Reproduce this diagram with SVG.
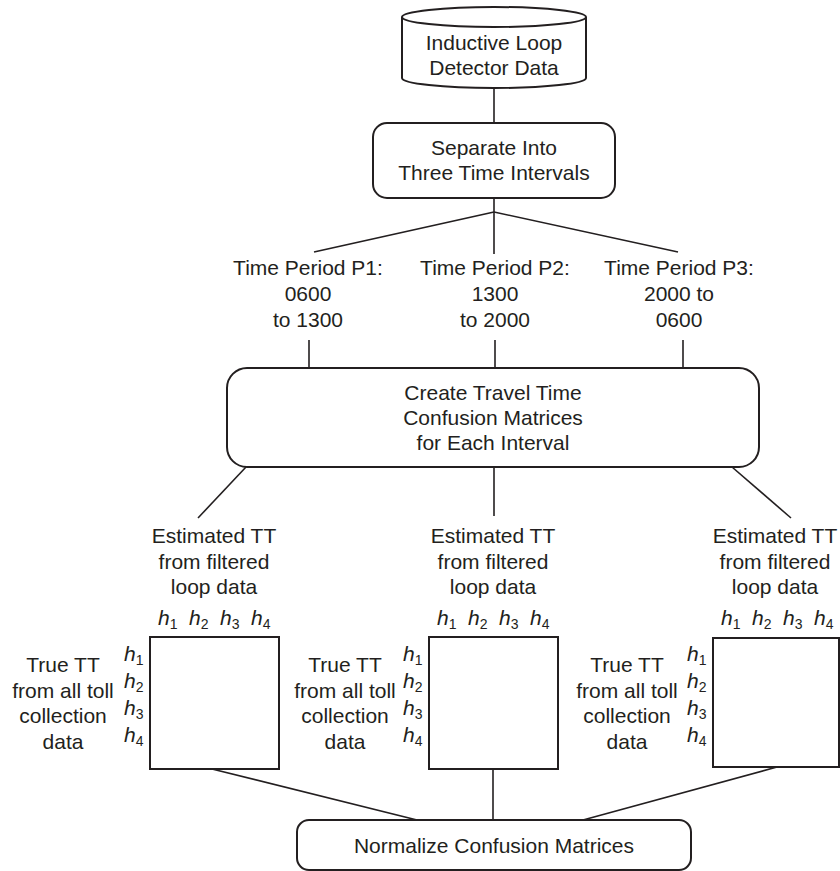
<svg xmlns="http://www.w3.org/2000/svg" width="840" height="871" viewBox="0 0 840 871">
<style>
  .t { font-family: "Liberation Sans", Arial, sans-serif; font-size: 21px; fill: #231f20; text-anchor: middle; }
  .h { font-family: "Liberation Sans", Arial, sans-serif; font-size: 21px; fill: #231f20; }
  .h .v { font-style: italic; }
  .h .s { font-size: 14px; }
  .box { fill: #fff; stroke: #231f20; stroke-width: 2; }
  .con line, .con polyline { stroke: #231f20; stroke-width: 1.6; fill: none; }
</style>
<rect width="840" height="871" fill="#fff"/>

<g class="con">
  <line x1="494" y1="87" x2="494" y2="123"/>
  <line x1="494" y1="198" x2="494" y2="254"/>
  <line x1="494" y1="212" x2="314" y2="252"/>
  <line x1="494" y1="212" x2="678" y2="252"/>
  <line x1="309" y1="340" x2="309" y2="368"/>
  <line x1="495" y1="340" x2="495" y2="368"/>
  <line x1="683" y1="340" x2="683" y2="368"/>
  <line x1="246" y1="467" x2="198" y2="518"/>
  <line x1="494" y1="467" x2="494" y2="516"/>
  <line x1="732" y1="467" x2="791" y2="518"/>
  <line x1="212" y1="769" x2="417" y2="820"/>
  <line x1="493" y1="769" x2="493" y2="820"/>
  <line x1="777" y1="767" x2="583" y2="820"/>
</g>

<g id="source">
  <path class="box" d="M402,17 L402,78 A92,10 0 0 0 586,78 L586,17 A92,10 0 0 0 402,17 Z"/>
  <path d="M402,17 A92,10 0 0 0 586,17" fill="none" stroke="#231f20" stroke-width="2"/>
  <text class="t" x="494" y="50">Inductive Loop</text>
  <text class="t" x="494" y="75">Detector Data</text>
</g>

<g id="separate">
  <rect class="box" x="373" y="123" width="242" height="75" rx="14"/>
  <text class="t" x="494" y="155">Separate Into</text>
  <text class="t" x="494" y="180">Three Time Intervals</text>
</g>

<g id="p1">
  <text class="t" x="308" y="275">Time Period P1:</text>
  <text class="t" x="308" y="301">0600</text>
  <text class="t" x="308" y="327">to 1300</text>
</g>
<g id="p2">
  <text class="t" x="495" y="275">Time Period P2:</text>
  <text class="t" x="495" y="301">1300</text>
  <text class="t" x="495" y="327">to 2000</text>
</g>
<g id="p3">
  <text class="t" x="679" y="275">Time Period P3:</text>
  <text class="t" x="679" y="301">2000 to</text>
  <text class="t" x="679" y="327">0600</text>
</g>

<g id="create">
  <rect class="box" x="227" y="368" width="532" height="99" rx="20"/>
  <text class="t" x="493" y="400">Create Travel Time</text>
  <text class="t" x="493" y="425">Confusion Matrices</text>
  <text class="t" x="493" y="450">for Each Interval</text>
</g>

<g id="matrix1">
  <text class="t" x="214" y="543">Estimated TT</text>
  <text class="t" x="214" y="569">from filtered</text>
  <text class="t" x="214" y="594">loop data</text>
  <text class="h" x="158" y="625"><tspan class="v">h</tspan><tspan class="s" dy="4">1</tspan></text>
  <text class="h" x="189" y="625"><tspan class="v">h</tspan><tspan class="s" dy="4">2</tspan></text>
  <text class="h" x="220" y="625"><tspan class="v">h</tspan><tspan class="s" dy="4">3</tspan></text>
  <text class="h" x="251" y="625"><tspan class="v">h</tspan><tspan class="s" dy="4">4</tspan></text>
  <rect class="box" x="150" y="637" width="129" height="132"/>
  <text class="h" x="124" y="661"><tspan class="v">h</tspan><tspan class="s" dy="4">1</tspan></text>
  <text class="h" x="124" y="688"><tspan class="v">h</tspan><tspan class="s" dy="4">2</tspan></text>
  <text class="h" x="124" y="715"><tspan class="v">h</tspan><tspan class="s" dy="4">3</tspan></text>
  <text class="h" x="124" y="742"><tspan class="v">h</tspan><tspan class="s" dy="4">4</tspan></text>
  <text class="t" x="63" y="672">True TT</text>
  <text class="t" x="63" y="698">from all toll</text>
  <text class="t" x="63" y="723">collection</text>
  <text class="t" x="63" y="749">data</text>
</g>

<g id="matrix2">
  <text class="t" x="493" y="543">Estimated TT</text>
  <text class="t" x="493" y="569">from filtered</text>
  <text class="t" x="493" y="594">loop data</text>
  <text class="h" x="437" y="625"><tspan class="v">h</tspan><tspan class="s" dy="4">1</tspan></text>
  <text class="h" x="468" y="625"><tspan class="v">h</tspan><tspan class="s" dy="4">2</tspan></text>
  <text class="h" x="499" y="625"><tspan class="v">h</tspan><tspan class="s" dy="4">3</tspan></text>
  <text class="h" x="530" y="625"><tspan class="v">h</tspan><tspan class="s" dy="4">4</tspan></text>
  <rect class="box" x="429" y="637" width="129" height="132"/>
  <text class="h" x="403" y="661"><tspan class="v">h</tspan><tspan class="s" dy="4">1</tspan></text>
  <text class="h" x="403" y="688"><tspan class="v">h</tspan><tspan class="s" dy="4">2</tspan></text>
  <text class="h" x="403" y="715"><tspan class="v">h</tspan><tspan class="s" dy="4">3</tspan></text>
  <text class="h" x="403" y="742"><tspan class="v">h</tspan><tspan class="s" dy="4">4</tspan></text>
  <text class="t" x="345" y="672">True TT</text>
  <text class="t" x="345" y="698">from all toll</text>
  <text class="t" x="345" y="723">collection</text>
  <text class="t" x="345" y="749">data</text>
</g>

<g id="matrix3">
  <text class="t" x="775" y="543">Estimated TT</text>
  <text class="t" x="775" y="569">from filtered</text>
  <text class="t" x="775" y="594">loop data</text>
  <text class="h" x="721" y="625"><tspan class="v">h</tspan><tspan class="s" dy="4">1</tspan></text>
  <text class="h" x="752" y="625"><tspan class="v">h</tspan><tspan class="s" dy="4">2</tspan></text>
  <text class="h" x="783" y="625"><tspan class="v">h</tspan><tspan class="s" dy="4">3</tspan></text>
  <text class="h" x="814" y="625"><tspan class="v">h</tspan><tspan class="s" dy="4">4</tspan></text>
  <rect class="box" x="713" y="638" width="126" height="129"/>
  <text class="h" x="687" y="661"><tspan class="v">h</tspan><tspan class="s" dy="4">1</tspan></text>
  <text class="h" x="687" y="688"><tspan class="v">h</tspan><tspan class="s" dy="4">2</tspan></text>
  <text class="h" x="687" y="715"><tspan class="v">h</tspan><tspan class="s" dy="4">3</tspan></text>
  <text class="h" x="687" y="742"><tspan class="v">h</tspan><tspan class="s" dy="4">4</tspan></text>
  <text class="t" x="627" y="672">True TT</text>
  <text class="t" x="627" y="698">from all toll</text>
  <text class="t" x="627" y="723">collection</text>
  <text class="t" x="627" y="749">data</text>
</g>

<g id="normalize">
  <rect class="box" x="297" y="820" width="394" height="50" rx="12"/>
  <text class="t" x="494" y="853">Normalize Confusion Matrices</text>
</g>
</svg>
